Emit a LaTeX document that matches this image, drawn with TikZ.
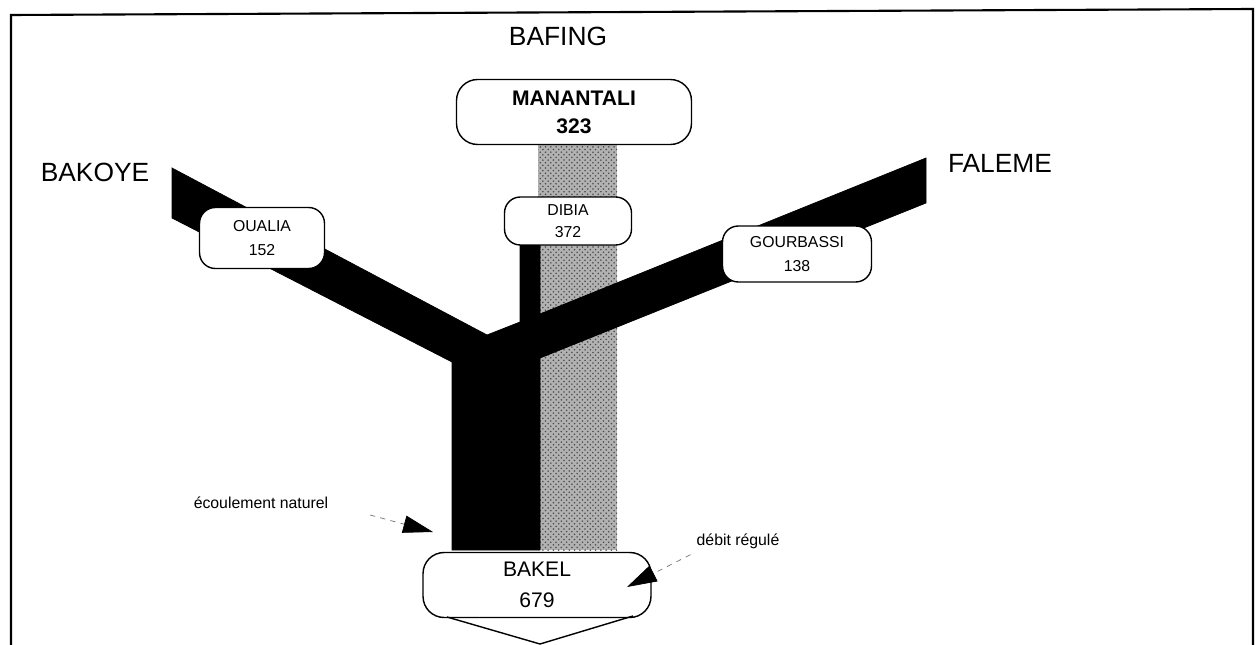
\documentclass[tikz,border=0pt]{standalone}
\usepackage{fontspec}
\setmainfont{Liberation Sans}
\usetikzlibrary{arrows.meta,patterns}

\tikzset{
  station/.style={draw, line width=.8pt, fill=white, rounded corners=9pt, align=center, inner sep=0pt},
  bigstation/.style={station, rounded corners=12pt, minimum width=4.7cm, minimum height=1.3cm},
  rivername/.style={font=\fontsize{15}{18}\selectfont},
  hint/.style={font=\fontsize{9}{11}\selectfont},
  natural/.style={fill=black, draw=black},
  regulated/.style={fill=black!30, postaction={pattern=crosshatch dots, pattern color=black!70}},
  pointer/.style={thin, black!55, dash pattern=on 3pt off 3pt, -{Triangle[length=17pt,width=10pt,color=black]}}
}

\begin{document}
\begin{tikzpicture}[x=.02cm, y=-.02cm]
\useasboundingbox (0,0) rectangle (1258,645);
\draw[line width=1.2pt] (11,645) -- (11,15) -- (1253,9) -- (1253,645);

\draw[regulated, draw=none] (538,140) rectangle (617,550);
\draw[natural] (172,168) -- (487,335) -- (520,322) -- (520,240) -- (540,240) -- (540,314)
    -- (926,158) -- (926,203) -- (540,358) -- (540,550) -- (452,550) -- (452,362)
    -- (172,218) -- cycle;

\node[rivername] (bafing) at (558,36) {BAFING};
\node[rivername] (bakoye) at (95,172) {BAKOYE};
\node[rivername] (faleme) at (1000,163) {FALEME};

\node[bigstation, font=\bfseries\fontsize{12}{16}\selectfont] (manantali) at (574,112) {MANANTALI\\323};
\node[station, minimum width=2.54cm, minimum height=.96cm, font=\fontsize{9}{12.5}\selectfont] (dibia) at (568,221) {DIBIA\\372};
\node[station, minimum width=2.5cm, minimum height=1.22cm, font=\fontsize{9}{13.5}\selectfont] (oualia) at (262,238) {OUALIA\\152};
\node[station, minimum width=2.98cm, minimum height=1.12cm, font=\fontsize{9}{14}\selectfont] (gourbassi) at (797,254) {GOURBASSI\\138};
\node[bigstation, minimum width=4.56cm, font=\fontsize{12}{18}\selectfont] (bakel) at (537,585) {BAKEL\\679};
\draw[line width=.8pt] (447,617) -- (540,644) -- (633,616);

\node[hint] (ecoulement) at (261,503) {écoulement naturel};
\node[hint] (debit) at (738,541) {débit régulé};
\coordinate (natTail) at (370,515);
\coordinate (natTip) at (433,532);
\coordinate (regTip) at (627,587);
\draw[pointer] (natTail) -- (natTip);
\draw[pointer] (debit.south west) -- (regTip);
\end{tikzpicture}
\end{document}
